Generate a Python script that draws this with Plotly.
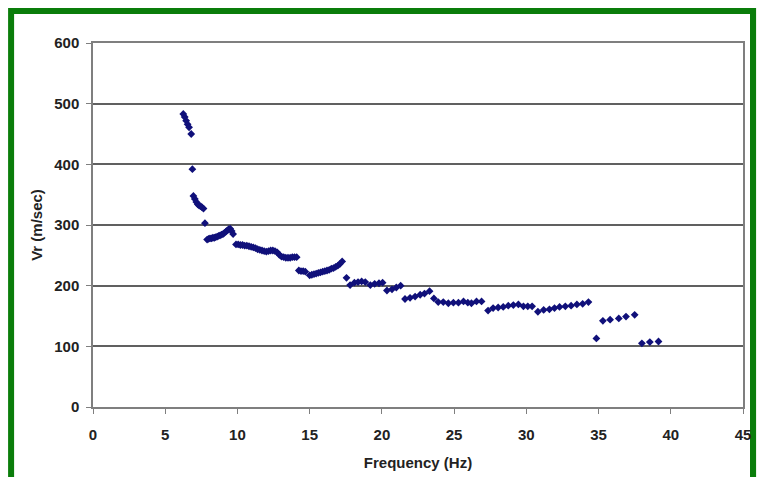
import plotly.graph_objects as go

# Dispersion curve: phase velocity vs frequency
freq = [6.25, 6.35, 6.45, 6.55, 6.65, 6.8, 6.88,
        6.95, 7.05, 7.15, 7.25, 7.35, 7.45, 7.55, 7.65, 7.75,
        7.9, 8.0, 8.1, 8.2, 8.3, 8.4, 8.5, 8.6, 8.7, 8.8, 8.9, 9.0, 9.1, 9.2, 9.3, 9.4, 9.5, 9.6, 9.7,
        9.9, 10.05, 10.2, 10.35, 10.5, 10.65, 10.8, 10.95, 11.1, 11.25, 11.4, 11.55, 11.7, 11.85,
        12.0, 12.15, 12.3, 12.45, 12.6, 12.75, 12.9, 13.05, 13.2, 13.35, 13.5, 13.65, 13.8, 13.95, 14.1,
        14.25, 14.4, 14.55, 14.7,
        15.0, 15.15, 15.3, 15.45, 15.6, 15.75, 15.9, 16.05, 16.2, 16.35, 16.5, 16.65, 16.8, 16.95, 17.1, 17.25,
        17.55, 17.8, 18.1, 18.35, 18.6, 18.85, 19.2, 19.5, 19.8, 20.05,
        20.35, 20.7, 21.0, 21.3,
        21.6, 21.95, 22.3, 22.65, 22.95, 23.3,
        23.6, 23.9, 24.25, 24.6, 24.95, 25.3, 25.65, 25.95, 26.2, 26.55, 26.9,
        27.35, 27.7, 28.05, 28.4, 28.75, 29.1, 29.45, 29.8, 30.1, 30.4,
        30.8, 31.2, 31.6, 31.95, 32.3, 32.7, 33.1, 33.5, 33.9, 34.3,
        34.85,
        35.3, 35.8, 36.4, 36.9, 37.5,
        38.0, 38.55, 39.15]

vr = [483, 478, 472, 466, 461, 450, 392,
      348, 343, 338, 334, 332, 331, 329, 327, 303,
      276, 277, 278, 278, 279, 279, 280, 281, 282, 283, 284, 285, 287, 289, 291, 293, 294, 290, 285,
      268, 268, 267, 267, 266, 266, 265, 264, 263, 262, 260, 259, 258, 257,
      256, 257, 258, 258, 257, 255, 251, 248, 247, 246, 246, 246, 247, 247, 247,
      225, 224, 224, 223,
      217, 218, 219, 220, 221, 222, 223, 224, 225, 226, 228, 229, 231, 233, 236, 240,
      213, 201, 205, 206, 207, 206, 201, 203, 204, 205,
      192, 194, 197, 200,
      178, 180, 182, 185, 187, 191,
      179, 173, 173, 171, 172, 172, 174, 172, 171, 174, 174,
      159, 163, 164, 165, 167, 168, 169, 166, 166, 166,
      157, 160, 161, 163, 165, 166, 167, 169, 170, 173,
      113,
      142, 144, 146, 149, 152,
      105, 107, 108]

xticks = [0, 5, 10, 15, 20, 25, 30, 35, 40, 45]
yticks = [0, 100, 200, 300, 400, 500, 600]

font_b = dict(family="Liberation Sans, Arial, sans-serif", size=15, color="#222222", weight="bold")

fig = go.Figure(go.Scatter(
    x=freq, y=vr, mode="markers",
    marker=dict(symbol="diamond", size=6, color="#10107a"),
    showlegend=False))

fig.update_xaxes(range=[0, 45], tickvals=xticks, showgrid=False, zeroline=False,
                 showline=True, linecolor="#7f7f7f", linewidth=1.5, mirror=True,
                 ticks="outside", ticklen=5, tickcolor="#7f7f7f", ticklabelstandoff=8,
                 tickfont=font_b,
                 title=dict(text="Frequency (Hz)", font=font_b, standoff=16))
fig.update_yaxes(range=[0, 600], tickvals=yticks, showgrid=True, gridcolor="#606060", gridwidth=1.5,
                 zeroline=False, showline=True, linecolor="#7f7f7f", linewidth=1.5, mirror=True,
                 ticks="outside", ticklen=5, tickcolor="#7f7f7f", ticklabelstandoff=4,
                 tickfont=font_b,
                 title=dict(text="Vr (m/sec)", font=font_b, standoff=8))

# green frame around the chart
fig.add_shape(type="rect", xref="paper", yref="paper",
              x0=-0.126, x1=1.0154, y0=-0.25, y1=1.088,
              line=dict(color="#0a7d0a", width=6), fillcolor="white", layer="below")

# page body adds an 8px offset, so margins are reduced by that amount
fig.update_layout(width=765, height=477,
                  margin=dict(l=85, r=30, t=35, b=78),
                  paper_bgcolor="#eef3ea", plot_bgcolor="white")

fig.write_html("out.html")
